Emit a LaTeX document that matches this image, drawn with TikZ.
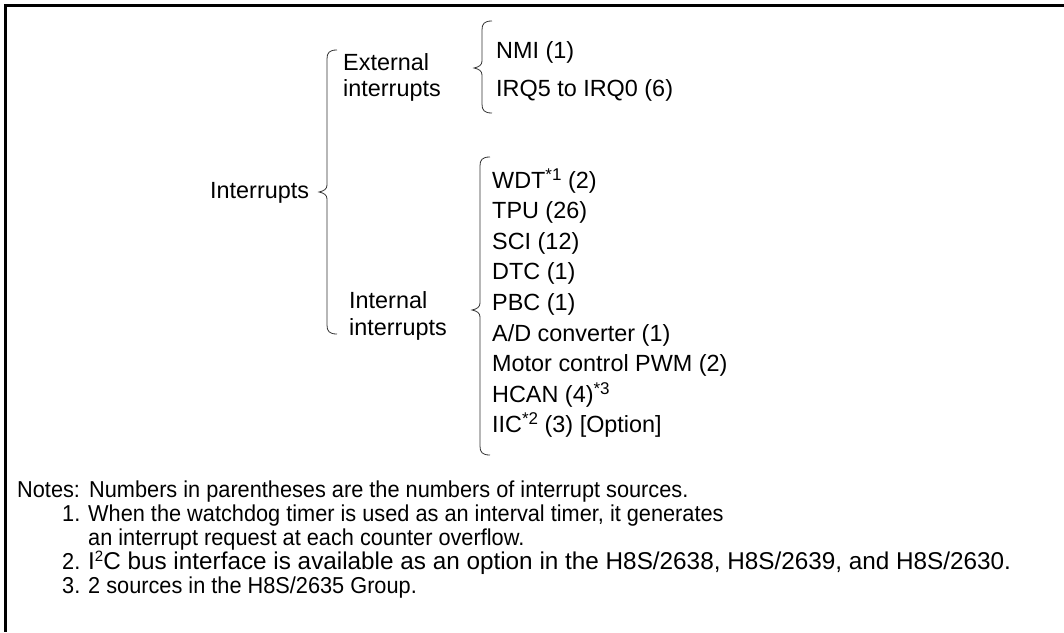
\documentclass[tikz,border=0pt]{standalone}
\usepackage{fontspec}
\usepackage{graphicx}
\setmainfont{Liberation Sans}
\newcommand{\diagfont}{\fontsize{23.4}{27}\selectfont}
\newcommand{\notefont}{\fontsize{23}{24}\selectfont}
\newcommand{\supnote}[1]{\raisebox{0.34em}{\fontsize{17}{17}\selectfont #1}}
\newcommand{\narrowtext}[1]{\scalebox{0.945}[1]{#1}}

\tikzset{
    itemtext/.style={anchor=base west, inner sep=0pt, font=\diagfont},
    notetext/.style={anchor=base west, inner sep=0pt, font=\notefont},
    brace line/.style={draw=black!80, line width=0.8pt},
    frame line/.style={draw=black, line width=3pt},
}
% curly brace: x of the stem, top, tip and bottom heights
\newcommand{\curlybrace}[4]{%
    \draw[brace line] ({#1+10},#2) .. controls ({#1+2},#2) and (#1,{#2+3}) .. (#1,{#2+9})
        -- (#1,{#3-7}) .. controls (#1,{#3-3}) and ({#1-3},{#3-1}) .. ({#1-8},#3)
        .. controls ({#1-3},{#3+1}) and (#1,{#3+3}) .. (#1,{#3+7})
        -- (#1,{#4-9}) .. controls (#1,{#4-3}) and ({#1+2},#4) .. ({#1+10},#4);}

\begin{document}
\begin{tikzpicture}[x=1pt, y=-1pt]
    \useasboundingbox (0,0) rectangle (1064,632);

    % frame (top and left edges only)
    \draw[frame line] (1064,5) -- (5,5) -- (5,632);

    % root
    \node[itemtext] (root) at (210,198) {Interrupts};
    \curlybrace{327}{50}{192}{334}

    % external interrupts
    \node[itemtext] (ext1) at (343,70) {External};
    \node[itemtext] (ext2) at (343,96) {interrupts};
    \curlybrace{482}{21}{68}{113}
    \node[itemtext] (nmi) at (496,58) {NMI (1)};
    \node[itemtext] (irq) at (496,96) {IRQ5 to IRQ0 (6)};

    % internal interrupts
    \node[itemtext] (int1) at (349,308) {Internal};
    \node[itemtext] (int2) at (349,335) {interrupts};
    \curlybrace{480}{157}{310}{455}
    \foreach \txt [count=\i from 0] in {WDT\supnote{*1} (2), TPU (26), SCI (12),
            DTC (1), PBC (1), A/D converter (1), Motor control PWM (2),
            HCAN (4)\supnote{*3}, IIC\supnote{*2} (3) [Option]} {
        \node[itemtext] (src\i) at (492,{188+30.6*\i}) {\txt};
    }

    % notes
    \node[notetext] (notes) at (17,497) {\narrowtext{Notes:}};
    \node[notetext] (note0) at (89,497) {\narrowtext{Numbers in parentheses are the numbers of interrupt sources.}};
    \node[notetext] (num1) at (62,521) {\narrowtext{1.}};
    \node[notetext] (note1a) at (88,521) {\narrowtext{When the watchdog timer is used as an interval timer, it generates}};
    \node[notetext] (note1b) at (88,545) {\narrowtext{an interrupt request at each counter overflow.}};
    \node[notetext] (num2) at (62,569) {\narrowtext{2.}};
    \node[notetext, font=\fontsize{24.3}{24}\selectfont] (note2) at (88,569)
        {I\raisebox{0.3em}{\fontsize{15}{15}\selectfont 2}C bus interface is available as an option in the H8S/2638, H8S/2639, and H8S/2630.};
    \node[notetext] (num3) at (62,593) {\narrowtext{3.}};
    \node[notetext] (note3) at (88,593) {\narrowtext{2 sources in the H8S/2635 Group.}};

\end{tikzpicture}
\end{document}
